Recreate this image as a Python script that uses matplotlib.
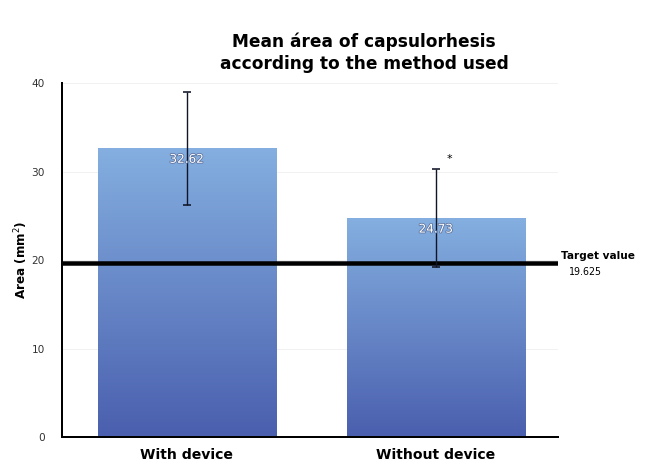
import matplotlib.pyplot as plt
import matplotlib.patheffects as pe
from matplotlib.colors import LinearSegmentedColormap
import numpy as np

# data
categorias = ['With device', 'Without device']
medias = [32.62, 24.73]
errores = [6.4, 5.5]
objetivo = 19.625

fig = plt.figure(figsize=(9, 6.5), dpi=72)
ax = fig.add_axes([0.0957, 0.0662, 0.765, 0.7564])

x = np.arange(len(categorias))
ancho = 0.715

# degradado vertical para las barras
degradado = np.linspace(0, 1, 256).reshape(-1, 1)
cmap = LinearSegmentedColormap.from_list('azul', ['#4a5fae', '#84afe0'])

barras = ax.bar(x, medias, width=ancho, color='none', edgecolor='none', zorder=2)
for b in barras:
    x0, y0 = b.get_x(), b.get_y()
    w, h = b.get_width(), b.get_height()
    im = ax.imshow(degradado, cmap=cmap, aspect='auto', origin='lower',
                   extent=[x0, x0 + w, y0, y0 + h], zorder=2)
    im.set_clip_path(b)

ax.errorbar(x, medias, yerr=errores, fmt='none', ecolor='#111528',
            elinewidth=1.4, capsize=4, capthick=1.6, zorder=4)

for xi, v in zip(x, medias):
    ax.text(xi, v - 0.5, f'{v:.2f}', ha='center', va='top', color='white',
            fontsize=12, zorder=5,
            path_effects=[pe.withStroke(linewidth=1.5, foreground='#5a6f9a')])

ax.text(x[1] + 0.055, 30.9, '*', ha='center', va='bottom', fontsize=11)

ax.axhline(objetivo, color='black', linewidth=4.5, zorder=3)
ax.text(1.505, 20.4, 'Target value', ha='left', va='center',
        fontsize=10.5, fontweight='bold', clip_on=False)
ax.text(1.535, 18.6, '19.625', ha='left', va='center', fontsize=9.5,
        clip_on=False)

ax.set_xlim(-0.5, 1.49)
ax.set_ylim(0, 40)
ax.set_yticks([0, 10, 20, 30, 40])
ax.yaxis.grid(True, color='#eeeeee', linewidth=0.8)
ax.set_axisbelow(True)
ax.tick_params(axis='y', length=0, pad=17, labelsize=10.5, labelcolor='#333333')
ax.tick_params(axis='x', length=0, pad=11, labelsize=14)
ax.set_xticks(x)
ax.set_xticklabels(categorias, fontweight='bold')
ax.set_ylabel('Area (mm$^2$)', fontweight='bold', fontsize=12, labelpad=2)

for s in ['top', 'right']:
    ax.spines[s].set_visible(False)
ax.spines['left'].set_linewidth(2)
ax.spines['bottom'].set_linewidth(2)

fig.text(364 / 648, 1 - 53 / 468, 'Mean área of capsulorhesis\naccording to the method used',
         ha='center', va='center', fontsize=17, fontweight='bold', linespacing=1.3)

fig.savefig('out.png', dpi=72)
